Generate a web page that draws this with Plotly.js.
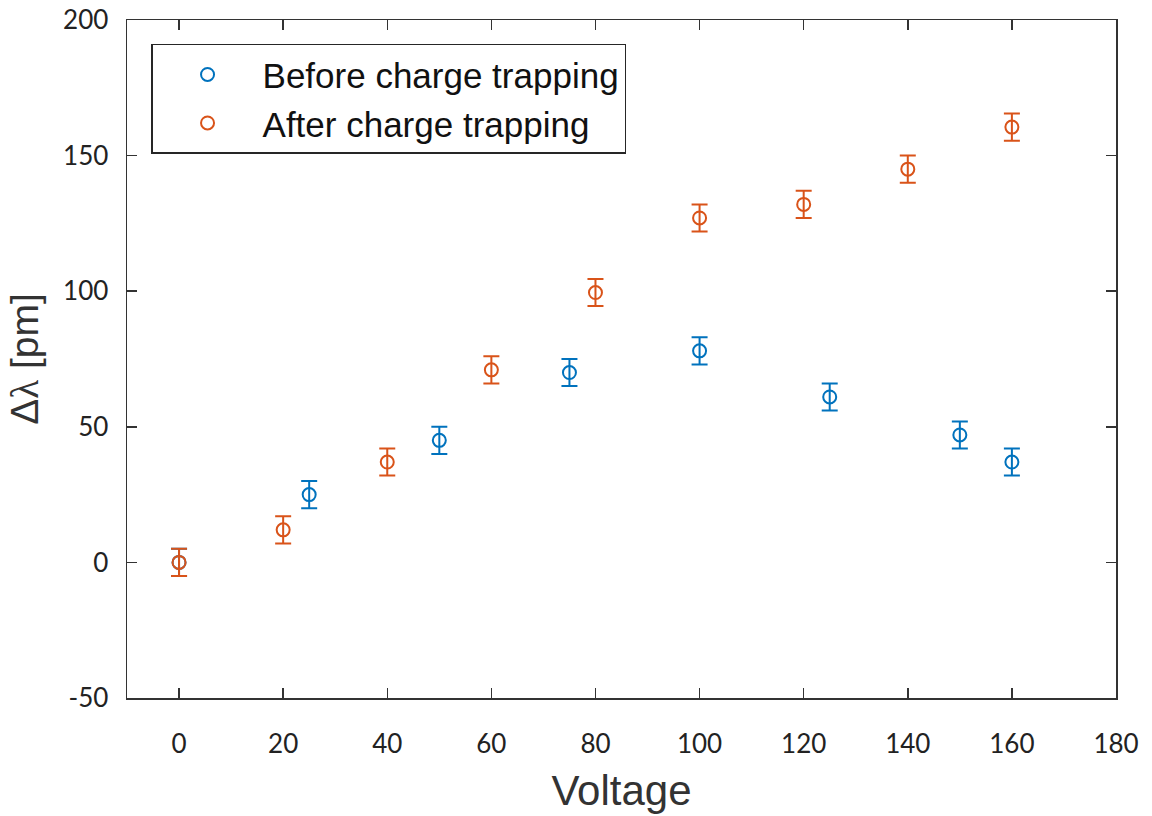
<!DOCTYPE html>
<html>
<head>
<meta charset="utf-8">
<script src="https://cdn.plot.ly/plotly-3.0.1.min.js"></script>
<style>
  html, body { margin: 0; padding: 0; background: #ffffff; }
  #chart { width: 1152px; height: 816px; }
</style>
</head>
<body>
<div id="chart"></div>
<script>
// Wavelength shift versus applied voltage, before and after charge trapping
const voltageBefore = [0, 25, 50, 75, 100, 125, 150, 160];
const shiftBefore   = [0, 25, 45, 70, 78, 61, 47, 37];
const errBefore     = [5, 5, 5, 5, 5, 5, 5, 5];

const voltageAfter = [0, 20, 40, 60, 80, 100, 120, 140, 160];
const shiftAfter   = [0, 12, 37, 71, 99.5, 127, 132, 145, 160.5];
const errAfter     = [5, 5, 5, 5, 5, 5, 5, 5, 5];

const seriesNames = ['Before charge trapping', 'After charge trapping'];
const xTicks = [0, 20, 40, 60, 80, 100, 120, 140, 160, 180];
const yTicks = [-50, 0, 50, 100, 150, 200];
const yTickText = ['-50', '0', '50', '100', '150', '200'];

const blue = '#0072BD';
const orange = '#D95319';

function series(x, y, err, name, color) {
  return {
    type: 'scatter',
    mode: 'markers',
    x: x,
    y: y,
    name: name,
    marker: { symbol: 'circle-open', size: 13, color: color, line: { width: 2, color: color } },
    error_y: { type: 'data', array: err, visible: true, color: color, thickness: 2, width: 8 }
  };
}

const traces = [
  series(voltageBefore, shiftBefore, errBefore, seriesNames[0], blue),
  series(voltageAfter, shiftAfter, errAfter, seriesNames[1], orange)
];

const axisCommon = {
  showline: true,
  linecolor: '#333333',
  linewidth: 1.5,
  mirror: 'ticks',
  ticks: 'inside',
  ticklen: 10,
  tickwidth: 1.5,
  tickcolor: '#333333',
  showgrid: false,
  zeroline: false,
  tickfont: { family: 'Lato, "Open Sans", sans-serif', size: 26, color: '#222222' }
};

const titleFont = { family: '"Liberation Sans", Arial, sans-serif', color: '#333333' };

const layout = {
  width: 1152,
  height: 816,
  margin: { l: 127, r: 36, t: 20, b: 118 },
  paper_bgcolor: '#ffffff',
  plot_bgcolor: '#ffffff',
  showlegend: true,
  xaxis: Object.assign({}, axisCommon, {
    range: [-10, 180],
    tickvals: xTicks,
    ticklabelstandoff: 22,
    title: { text: 'Voltage', font: Object.assign({ size: 42 }, titleFont), standoff: 18 }
  }),
  yaxis: Object.assign({}, axisCommon, {
    range: [-50, 200],
    tickvals: yTicks,
    ticktext: yTickText,
    ticklabelstandoff: 12,
    title: {
      text: 'Δ<span style="font-family:\'Liberation Serif\', serif">λ</span> [pm]',
      font: Object.assign({ size: 39 }, titleFont),
      standoff: 12
    }
  }),
  legend: {
    x: 0.0243,
    y: 0.965,
    xanchor: 'left',
    yanchor: 'top',
    bgcolor: '#ffffff',
    bordercolor: '#262626',
    borderwidth: 1.5,
    itemwidth: 100,
    font: { family: '"Liberation Sans", Arial, sans-serif', size: 35, color: '#111111' }
  }
};

Plotly.newPlot('chart', traces, layout, { staticPlot: true, displayModeBar: false });
</script>
</body>
</html>
